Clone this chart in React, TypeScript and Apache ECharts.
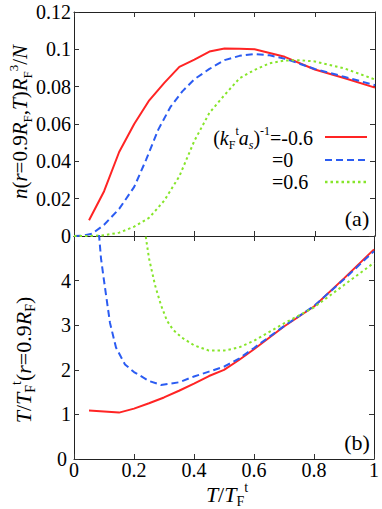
import React, { useEffect, useRef } from "react";
import * as echarts from "echarts";

// ---- Data ----
const redDensityT = [0.05, 0.1, 0.15, 0.2, 0.25, 0.3, 0.35, 0.4, 0.45, 0.5, 0.55, 0.6, 0.7, 0.8, 0.9, 1.0];
const redDensity = [0.0084, 0.024, 0.045, 0.06, 0.0727, 0.082, 0.0906, 0.0945, 0.0988, 0.1004, 0.1003, 0.1, 0.096, 0.0892, 0.0845, 0.0795];

const blueDensityT = [0, 0.03, 0.06, 0.1, 0.15, 0.2, 0.24, 0.28, 0.32, 0.36, 0.4, 0.45, 0.5, 0.55, 0.6, 0.65, 0.7, 0.8, 0.9, 1.0];
const blueDensity = [0, 0.0002, 0.0012, 0.006, 0.0145, 0.0263, 0.041, 0.057, 0.069, 0.0775, 0.084, 0.0895, 0.0942, 0.0965, 0.0975, 0.0968, 0.095, 0.0895, 0.0852, 0.0808];

const greenDensityT = [0, 0.05, 0.1, 0.15, 0.2, 0.25, 0.3, 0.35, 0.4, 0.45, 0.5, 0.55, 0.6, 0.65, 0.7, 0.75, 0.8, 0.9, 1.0];
const greenDensity = [0, 0, 0.0004, 0.0018, 0.005, 0.0098, 0.019, 0.032, 0.051, 0.066, 0.0755, 0.0845, 0.089, 0.0925, 0.094, 0.0942, 0.0935, 0.0897, 0.0838];

const redTempT = [0.05, 0.1, 0.15, 0.2, 0.25, 0.3, 0.35, 0.4, 0.45, 0.5, 0.55, 0.6, 0.7, 0.8, 0.9, 1.0];
const redTemp = [1.09, 1.065, 1.04, 1.13, 1.25, 1.38, 1.53, 1.69, 1.86, 2.0, 2.22, 2.46, 2.97, 3.42, 4.05, 4.7];

const blueTempT = [0.08, 0.09, 0.1, 0.12, 0.14, 0.17, 0.2, 0.25, 0.29, 0.35, 0.4, 0.45, 0.5, 0.55, 0.6, 0.7, 0.8, 0.9, 1.0];
const blueTemp = [5.3, 4.5, 4.0, 3.05, 2.5, 2.12, 1.95, 1.75, 1.66, 1.72, 1.85, 1.96, 2.07, 2.25, 2.49, 2.98, 3.43, 4.03, 4.66];

const greenTempT = [0.23, 0.24, 0.25, 0.27, 0.29, 0.31, 0.33, 0.36, 0.4, 0.45, 0.5, 0.55, 0.6, 0.7, 0.8, 0.9, 1.0];
const greenTemp = [5.6, 4.95, 4.5, 3.9, 3.45, 3.1, 2.9, 2.72, 2.55, 2.43, 2.43, 2.5, 2.65, 3.04, 3.4, 3.9, 4.4];

const seriesNames = ["-0.6", "0", "0.6"];
const xTicks = { min: 0, max: 1, interval: 0.2 };
const densityTicks = { min: 0, max: 0.12, interval: 0.02 };
const tempTicks = { min: 0, max: 5, interval: 1 };

const FAM = "Liberation Serif";
const RED = "#ff2424";
const BLUE = "#2b5cf2";
const GREEN = "#86e52a";

const pairs = (t: number[], v: number[]) => t.map((x, i) => [x, v[i]]);

const richStyles = (size: number) => {
  const small = Math.round(size * 0.62);
  return {
    n: { fontFamily: FAM, fontSize: size, lineHeight: size + 6, fill: "#000" },
    i: { fontFamily: FAM, fontSize: size, fontStyle: "italic", lineHeight: size + 6, fill: "#000" },
    sub: { fontFamily: FAM, fontSize: small, lineHeight: small + 1, verticalAlign: "bottom", fill: "#000" },
    sup: { fontFamily: FAM, fontSize: small, lineHeight: small + 1, verticalAlign: "top", fill: "#000" },
    isub: { fontFamily: FAM, fontSize: small, fontStyle: "italic", lineHeight: small + 1, verticalAlign: "bottom", fill: "#000" },
  };
};

export default function App() {
  const ref = useRef<HTMLDivElement>(null);
  useEffect(() => {
    if (!ref.current) return;
    const chart = echarts.init(ref.current, null, { renderer: "svg" });
    const axisLine = { show: true, onZero: false, lineStyle: { color: "#222", width: 1 } };
    const tick = { show: true, inside: true, length: 5, lineStyle: { color: "#333" } };
    const label = { fontFamily: FAM, fontSize: 20, color: "#000" };
    const mkX = (gridIndex: number, position: string, showLabel: boolean) => ({
      type: "value",
      gridIndex,
      position,
      ...xTicks,
      axisLine,
      axisTick: tick,
      splitLine: { show: false },
      axisLabel: showLabel
        ? { ...label, margin: 1, formatter: (v: number) => String(Math.round(v * 10) / 10) }
        : { show: false },
    });
    const mkY = (gridIndex: number, position: string, showLabel: boolean, ticks: any, hideMax: boolean, padZero: boolean) => ({
      type: "value",
      gridIndex,
      position,
      ...ticks,
      axisLine,
      axisTick: tick,
      splitLine: { show: false },
      axisLabel: showLabel
        ? {
            ...label,
            margin: 3,
            showMaxLabel: !hideMax,
            formatter: (v: number) => {
              const s = String(Math.round(v * 1000) / 1000);
              return padZero && v === 0 ? "{z|" + s + "}" : s;
            },
            rich: { z: { fontFamily: FAM, fontSize: 20, color: "#000", padding: [0, 4, 0, 0] } },
          }
        : { show: false },
    });

    const line = (name: string, data: number[][], color: string, type: any, xi: number, yi: number) => ({
      type: "line",
      name,
      data,
      xAxisIndex: xi,
      yAxisIndex: yi,
      showSymbol: false,
      symbol: "none",
      smooth: false,
      clip: true,
      lineStyle: { color, width: 2, type, cap: "butt" },
      itemStyle: { color },
      z: 3,
    });

    const dash = [7, 4];
    const dot = [2.5, 3];

    chart.setOption({
      animation: false,
      backgroundColor: "#fff",
      textStyle: { fontFamily: FAM },
      grid: [
        { left: 74, top: 12, width: 301, height: 224 },
        { left: 74, top: 236, width: 301, height: 223 },
      ],
      xAxis: [mkX(0, "bottom", false), mkX(0, "top", false), mkX(1, "bottom", true), mkX(1, "top", false)],
      yAxis: [
        mkY(0, "left", true, densityTicks, false, false),
        mkY(0, "right", false, densityTicks, false, false),
        mkY(1, "left", true, tempTicks, true, true),
        mkY(1, "right", false, tempTicks, false, false),
      ],
      series: [
        line(seriesNames[0], pairs(redDensityT, redDensity), RED, "solid", 0, 0),
        line(seriesNames[1], pairs(blueDensityT, blueDensity), BLUE, dash, 0, 0),
        line(seriesNames[2], pairs(greenDensityT, greenDensity), GREEN, dot, 0, 0),
        line(seriesNames[0], pairs(redTempT, redTemp), RED, "solid", 2, 2),
        line(seriesNames[1], pairs(blueTempT, blueTemp), BLUE, dash, 2, 2),
        line(seriesNames[2], pairs(greenTempT, greenTemp), GREEN, dot, 2, 2),
      ],
      graphic: [
        // y-axis name (top panel)
        {
          type: "text",
          x: 20,
          y: 122,
          rotation: Math.PI / 2,
          style: {
            text: "{i|n}{n|(}{i|r}{n|=0.9}{i|R}{sub|F}{n|,}{i|T}{n|)}{i|R}{sub|F}{sup|3}{n|/}{i|N}",
            rich: richStyles(21),
            align: "center",
            verticalAlign: "middle",
          },
        },
        // y-axis name (bottom panel)
        {
          type: "text",
          x: 23,
          y: 360,
          rotation: Math.PI / 2,
          style: {
            text: "{i|T}{n|/}{i|T}{sub|F}{sup|t}{n|(}{i|r}{n|=0.9}{i|R}{sub|F}{n|)}",
            rich: richStyles(22),
            align: "center",
            verticalAlign: "middle",
          },
        },
        // x-axis name
        {
          type: "text",
          x: 227,
          y: 494,
          style: {
            text: "{i|T}{n|/}{i|T}{sub|F}{sup|t}",
            rich: richStyles(22),
            align: "center",
            verticalAlign: "middle",
          },
        },
        // panel tags
        { type: "text", x: 357, y: 218, style: { text: "(a)", fontFamily: FAM, fontSize: 22, fill: "#000", align: "center", verticalAlign: "middle" } },
        { type: "text", x: 357, y: 442, style: { text: "(b)", fontFamily: FAM, fontSize: 22, fill: "#000", align: "center", verticalAlign: "middle" } },
        // legend
        {
          type: "text",
          x: 313,
          y: 138,
          style: {
            text: "{n|(}{i|k}{sub|F}{sup|t}{i|a}{isub|s}{n|)}{sup|-1}{n|=-0.6}",
            rich: richStyles(20),
            align: "right",
            verticalAlign: "middle",
          },
        },
        { type: "text", x: 272, y: 160, style: { text: "=0", fontFamily: FAM, fontSize: 20, fill: "#000", align: "left", verticalAlign: "middle" } },
        { type: "text", x: 272, y: 182, style: { text: "=0.6", fontFamily: FAM, fontSize: 20, fill: "#000", align: "left", verticalAlign: "middle" } },
        { type: "line", shape: { x1: 325, y1: 137, x2: 367, y2: 137 }, style: { stroke: RED, lineWidth: 2 } },
        { type: "line", shape: { x1: 325, y1: 160, x2: 367, y2: 160 }, style: { stroke: BLUE, lineWidth: 2, lineDash: dash } },
        { type: "line", shape: { x1: 325, y1: 182, x2: 367, y2: 182 }, style: { stroke: GREEN, lineWidth: 2.5, lineDash: dot } },
      ],
    });
    return () => chart.dispose();
  }, []);
  return <div ref={ref} style={{ position: "fixed", left: 0, top: 0, width: 382, height: 509 }} />;
}
